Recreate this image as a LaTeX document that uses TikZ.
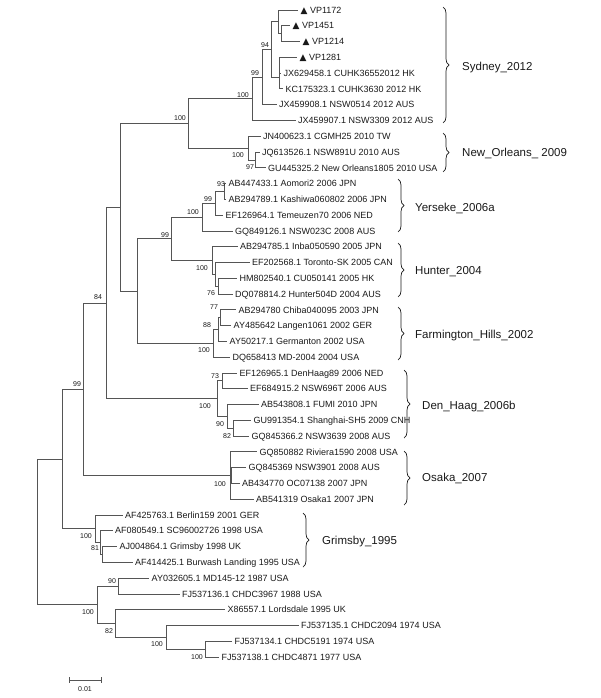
\documentclass[tikz,border=0pt]{standalone}
\usepackage{fontspec}
\setmainfont{Liberation Sans}
\newfontfamily\symfont{DejaVu Sans}
\usetikzlibrary{decorations.pathreplacing}
\definecolor{treecol}{RGB}{85,85,85}
\definecolor{txtcol}{RGB}{25,25,25}
\newcommand{\tri}{{\symfont ▲}~}
\begin{document}
\begin{tikzpicture}[x=1pt,y=-1pt,
  br/.style={draw=treecol, line width=0.8pt},
  leaf/.style={anchor=west, inner xsep=2.5pt, inner ysep=0pt, text height=6.4pt, text depth=0pt, font=\fontsize{9}{10}\selectfont, text=txtcol},
  bs/.style={inner sep=0pt, font=\fontsize{7}{8}\selectfont, text=txtcol},
  grp/.style={anchor=west, inner sep=0pt, text height=8.2pt, text depth=0pt, font=\fontsize{11.5}{13}\selectfont, text=txtcol},
  brc/.style={draw=txtcol, line width=0.7pt, decorate, decoration={brace, amplitude=6pt}}]
\useasboundingbox (0,0) rectangle (600,698);

% ---------- internal nodes ----------
\coordinate (nR0) at (37,531.9);
\coordinate (nAC) at (62,459.0);
\coordinate (nAB) at (83,389.2);
\coordinate (nAA) at (106,303.0);
\coordinate (nT) at (120,207.3);
\coordinate (nF) at (188,123.5);
\coordinate (nE) at (252,98.8);
\coordinate (nD) at (262.3,77.1);
\coordinate (nC) at (271.7,49.5);
\coordinate (nA) at (278,21.9);
\coordinate (nA1) at (281.7,33.7);
\coordinate (nB) at (279,77.0);
\coordinate (nB1) at (279.6,65.2);
\coordinate (nG) at (248.5,148.1);
\coordinate (nH) at (255,159.9);
\coordinate (nS) at (137,291.1);
\coordinate (nO) at (171,238.8);
\coordinate (nK) at (202,217.1);
\coordinate (nJ) at (215,203.3);
\coordinate (nI) at (224,191.5);
\coordinate (nL) at (212,260.5);
\coordinate (nM) at (215,274.3);
\coordinate (nN) at (218,286.2);
\coordinate (nR) at (213,343.4);
\coordinate (nQ) at (218,329.6);
\coordinate (nP) at (220,317.7);
\coordinate (nV) at (217,398.6);
\coordinate (nU) at (222,380.8);
\coordinate (nW) at (227,416.3);
\coordinate (nX) at (233,428.2);
\coordinate (nY) at (230,475.5);
\coordinate (nZ) at (231.5,475.5);
\coordinate (nAD) at (95,528.8);
\coordinate (nAE) at (100,542.6);
\coordinate (nAF) at (102,554.4);
\coordinate (nAH) at (97,604.7);
\coordinate (nAI) at (118,586.0);
\coordinate (nAJ) at (115,623.4);
\coordinate (nAK) at (166,637.3);
\coordinate (nAL) at (205,649.1);

% ---------- leaves ----------
\node[leaf] (l0) at (298,10.0) {\tri VP1172};
\node[leaf] (l1) at (290,25.8) {\tri VP1451};
\node[leaf] (l2) at (300,41.6) {\tri VP1214};
\node[leaf] (l3) at (297,57.3) {\tri VP1281};
\node[leaf] (l4) at (281,73.1) {JX629458.1 CUHK36552012 HK};
\node[leaf] (l5) at (283,88.9) {KC175323.1 CUHK3630 2012 HK};
\node[leaf] (l6) at (276.5,104.7) {JX459908.1 NSW0514 2012 AUS};
\node[leaf] (l7) at (295.5,120.5) {JX459907.1 NSW3309 2012 AUS};
\node[leaf] (l8) at (260.5,136.2) {JN400623.1 CGMH25 2010 TW};
\node[leaf] (l9) at (259.5,152.0) {JQ613526.1 NSW891U 2010 AUS};
\node[leaf] (l10) at (265.5,167.8) {GU445325.2 New Orleans1805 2010 USA};
\node[leaf] (l11) at (226,183.6) {AB447433.1 Aomori2 2006 JPN};
\node[leaf] (l12) at (226,199.4) {AB294789.1 Kashiwa060802 2006 JPN};
\node[leaf] (l13) at (223,215.1) {EF126964.1 Temeuzen70 2006 NED};
\node[leaf] (l14) at (232.5,230.9) {GQ849126.1 NSW023C 2008 AUS};
\node[leaf] (l15) at (237.5,246.7) {AB294785.1 Inba050590 2005 JPN};
\node[leaf] (l16) at (249.5,262.5) {EF202568.1 Toronto-SK 2005 CAN};
\node[leaf] (l17) at (237,278.3) {HM802540.1 CU050141 2005 HK};
\node[leaf] (l18) at (232.5,294.0) {DQ078814.2 Hunter504D 2004 AUS};
\node[leaf] (l19) at (236,309.8) {AB294780 Chiba040095 2003 JPN};
\node[leaf] (l20) at (231,325.6) {AY485642 Langen1061 2002 GER};
\node[leaf] (l21) at (227,341.4) {AY50217.1 Germanton 2002 USA};
\node[leaf] (l22) at (230,357.2) {DQ658413 MD-2004 2004 USA};
\node[leaf] (l23) at (237,372.9) {EF126965.1 DenHaag89 2006 NED};
\node[leaf] (l24) at (247.5,388.7) {EF684915.2 NSW696T 2006 AUS};
\node[leaf] (l25) at (258.5,404.5) {AB543808.1 FUMI 2010 JPN};
\node[leaf] (l26) at (251,420.3) {GU991354.1 Shanghai-SH5 2009 CNH};
\node[leaf] (l27) at (249,436.1) {GQ845366.2 NSW3639 2008 AUS};
\node[leaf] (l28) at (257,451.8) {GQ850882 Riviera1590 2008 USA};
\node[leaf] (l29) at (246,467.6) {GQ845369 NSW3901 2008 AUS};
\node[leaf] (l30) at (239.5,483.4) {AB434770 OC07138 2007 JPN};
\node[leaf] (l31) at (253.5,499.2) {AB541319 Osaka1 2007 JPN};
\node[leaf] (l32) at (122.5,515.0) {AF425763.1 Berlin159 2001 GER};
\node[leaf] (l33) at (112.5,530.7) {AF080549.1 SC96002726 1998 USA};
\node[leaf] (l34) at (117,546.5) {AJ004864.1 Grimsby 1998 UK};
\node[leaf] (l35) at (132.5,562.3) {AF414425.1 Burwash Landing 1995 USA};
\node[leaf] (l36) at (149,578.1) {AY032605.1 MD145-12 1987 USA};
\node[leaf] (l37) at (179.5,593.9) {FJ537136.1 CHDC3967 1988 USA};
\node[leaf] (l38) at (225,609.6) {X86557.1 Lordsdale 1995 UK};
\node[leaf] (l39) at (298.5,625.4) {FJ537135.1 CHDC2094 1974 USA};
\node[leaf] (l40) at (232,641.2) {FJ537134.1 CHDC5191 1974 USA};
\node[leaf] (l41) at (219,657.0) {FJ537138.1 CHDC4871 1977 USA};

% ---------- branches ----------
\foreach \p/\c in {nR0/nAC, nR0/nAH, nAC/nAB, nAC/nAD, nAB/nAA, nAB/nY,
  nAA/nT, nAA/nV, nT/nF, nT/nS, nF/nE, nF/nG, nE/nD, nE/l7, nD/nC, nD/l6,
  nC/nA, nC/nB, nA/l0, nA/nA1, nA1/l1, nA1/l2, nB/nB1, nB/l5, nB1/l3, nB1/l4,
  nG/l8, nG/nH, nH/l9, nH/l10, nS/nO, nS/nR, nO/nK, nO/nL, nK/nJ, nK/l14,
  nJ/nI, nJ/l13, nI/l11, nI/l12, nL/l15, nL/nM, nM/l16, nM/nN, nN/l17, nN/l18,
  nR/nQ, nR/l22, nQ/nP, nQ/l21, nP/l19, nP/l20, nV/nU, nV/nW, nU/l23, nU/l24,
  nW/l25, nW/nX, nX/l26, nX/l27, nY/l28, nY/nZ, nY/l31, nZ/l29, nZ/l30,
  nAD/l32, nAD/nAE, nAE/l33, nAE/nAF, nAF/l34, nAF/l35, nAH/nAI, nAH/nAJ,
  nAI/l36, nAI/l37, nAJ/l38, nAJ/nAK, nAK/l39, nAK/nAL, nAL/l40, nAL/l41}
  \draw[br] (\p) |- (\c);

% ---------- bootstrap values ----------
\node[bs] (b1) at (265,45) {94};
\node[bs] (b2) at (255,73) {99};
\node[bs] (b3) at (243,95) {100};
\node[bs] (b4) at (180,118) {100};
\node[bs] (b5) at (238,155) {100};
\node[bs] (b6) at (250,167) {97};
\node[bs] (b7) at (221,184) {93};
\node[bs] (b8) at (208,199) {99};
\node[bs] (b9) at (193,212) {100};
\node[bs] (b10) at (165,235) {99};
\node[bs] (b11) at (202,268) {100};
\node[bs] (b12) at (211,293) {76};
\node[bs] (b13) at (214,307) {77};
\node[bs] (b14) at (207,325) {88};
\node[bs] (b15) at (204,350) {100};
\node[bs] (b16) at (215,376) {73};
\node[bs] (b17) at (205,406) {100};
\node[bs] (b18) at (220,424) {90};
\node[bs] (b19) at (227,436) {82};
\node[bs] (b20) at (220,484) {100};
\node[bs] (b21) at (98,297) {84};
\node[bs] (b22) at (77,384) {99};
\node[bs] (b23) at (86,536) {100};
\node[bs] (b24) at (95,548) {81};
\node[bs] (b25) at (88,612) {100};
\node[bs] (b26) at (112,581) {90};
\node[bs] (b27) at (109,631) {82};
\node[bs] (b28) at (157,644) {100};
\node[bs] (b29) at (197,657) {100};

% ---------- clade braces and names ----------
\draw[brc] (443,7) -- (443,123);
\node[grp] (g1) at (462,66) {Sydney\_2012};
\draw[brc] (443,133) -- (443,172);
\node[grp] (g2) at (462,152) {New\_Orleans\_ 2009};
\draw[brc] (398,179) -- (398,232);
\node[grp] (g3) at (415,207) {Yerseke\_2006a};
\draw[brc] (398,243) -- (398,297);
\node[grp] (g4) at (415,270) {Hunter\_2004};
\draw[brc] (398,307) -- (398,360);
\node[grp] (g5) at (415,334) {Farmington\_Hills\_2002};
\draw[brc] (404,370) -- (404,438);
\node[grp] (g6) at (422,405) {Den\_Haag\_2006b};
\draw[brc] (404,451) -- (404,505);
\node[grp] (g7) at (422,477) {Osaka\_2007};
\draw[brc] (303,513) -- (303,567);
\node[grp] (g8) at (322,540) {Grimsby\_1995};

% ---------- scale bar ----------
\coordinate (s1) at (69,680);
\coordinate (s2) at (101,680);
\draw[br] (s1) -- (s2);
\draw[br] ([yshift=3pt]s1) -- ([yshift=-3pt]s1);
\draw[br] ([yshift=3pt]s2) -- ([yshift=-3pt]s2);
\node[bs] (sl) at (85,689) {0.01};
\end{tikzpicture}
\end{document}
